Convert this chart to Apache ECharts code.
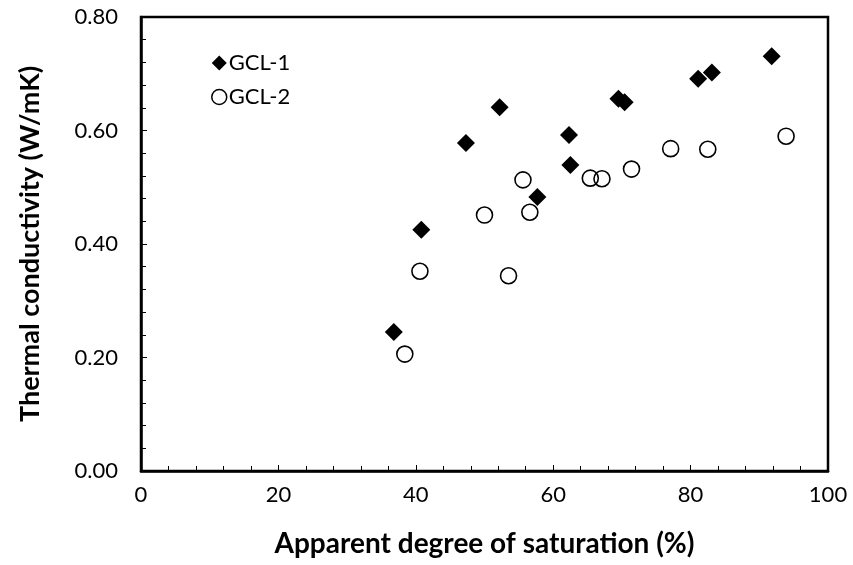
<!DOCTYPE html>
<html><head><meta charset="utf-8">
<script src="https://cdn.jsdelivr.net/npm/echarts@6/dist/echarts.min.js"></script>
<style>html,body{margin:0;padding:0;background:#fff}#c{width:853px;height:565px}</style>
</head><body><div id="c"></div>
<script>
const gcl1X = [36.8, 40.8, 47.3, 52.2, 57.7, 62.3, 62.5, 69.5, 70.4, 81.1, 83.1, 91.8];
const gcl1Y = [0.245, 0.425, 0.578, 0.641, 0.483, 0.592, 0.539, 0.656, 0.650, 0.691, 0.702, 0.731];
const gcl2X = [38.4, 40.6, 50.0, 53.5, 55.6, 56.6, 65.4, 67.1, 71.4, 77.1, 82.5, 93.9];
const gcl2Y = [0.206, 0.352, 0.451, 0.344, 0.513, 0.456, 0.516, 0.515, 0.532, 0.568, 0.567, 0.590];
const seriesNames = ['GCL-1', 'GCL-2'];
const xTitle = 'Apparent degree of saturation (%)';
const yTitle = 'Thermal conductivity (W/mK)';

const font = 'Lato, "Open Sans", sans-serif';
const chart = echarts.init(document.getElementById('c'), null, {renderer: 'canvas'});
chart.setOption({
  animation: false,
  backgroundColor: '#fff',
  grid: {left: 141, right: 25, top: 17, bottom: 94, show: true, borderColor: '#000', borderWidth: 2.5},
  legend: {
    left: 206, top: 47, orient: 'vertical', itemGap: 12, itemWidth: 15, itemHeight: 15,
    textStyle: {fontFamily: font, fontSize: 22, color: '#000', padding: [0,0,0,-3]},
    data: [{name: seriesNames[0], icon: 'diamond', itemStyle: {color: '#000', opacity: 1}},
           {name: seriesNames[1], icon: 'circle', itemStyle: {color: 'transparent', borderColor: '#000', borderWidth: 1.5, opacity: 1}}]
  },
  xAxis: {
    type: 'value', min: 0, max: 100, interval: 20,
    name: xTitle, nameLocation: 'middle', nameGap: 59,
    nameTextStyle: {fontFamily: font, fontSize: 28, fontWeight: 'bold', color: '#000'},
    axisLine: {show: true, lineStyle: {color: '#000', width: 2.5}},
    axisTick: {show: true, inside: true, length: 6, lineStyle: {color: '#000', width: 1}},
    minorTick: {show: true, splitNumber: 5, length: 5, lineStyle: {color: '#000', width: 1}},
    axisLabel: {fontFamily: font, fontSize: 22, color: '#000', margin: 13},
    splitLine: {show: false}
  },
  yAxis: {
    type: 'value', min: 0, max: 0.8, interval: 0.2,
    name: yTitle, nameLocation: 'middle', nameGap: 97,
    nameTextStyle: {fontFamily: font, fontSize: 27, fontWeight: 'bold', color: '#000'},
    axisLine: {show: true, lineStyle: {color: '#000', width: 2.5}},
    axisTick: {show: true, inside: true, length: 6, lineStyle: {color: '#000', width: 1}},
    minorTick: {show: true, splitNumber: 5, length: 5, lineStyle: {color: '#000', width: 1}},
    axisLabel: {fontFamily: font, fontSize: 22, color: '#000', margin: 23, formatter: v => v.toFixed(2)},
    splitLine: {show: false}
  },
  series: [
    {name: seriesNames[0], type: 'scatter', symbol: 'diamond', symbolSize: 18,
     itemStyle: {color: '#000', opacity: 1}, data: gcl1X.map((x, i) => [x, gcl1Y[i]])},
    {name: seriesNames[1], type: 'scatter', symbol: 'circle', symbolSize: 16,
     itemStyle: {color: 'transparent', borderColor: '#000', borderWidth: 1.6, opacity: 1}, data: gcl2X.map((x, i) => [x, gcl2Y[i]])}
  ]
});
</script></body></html>
